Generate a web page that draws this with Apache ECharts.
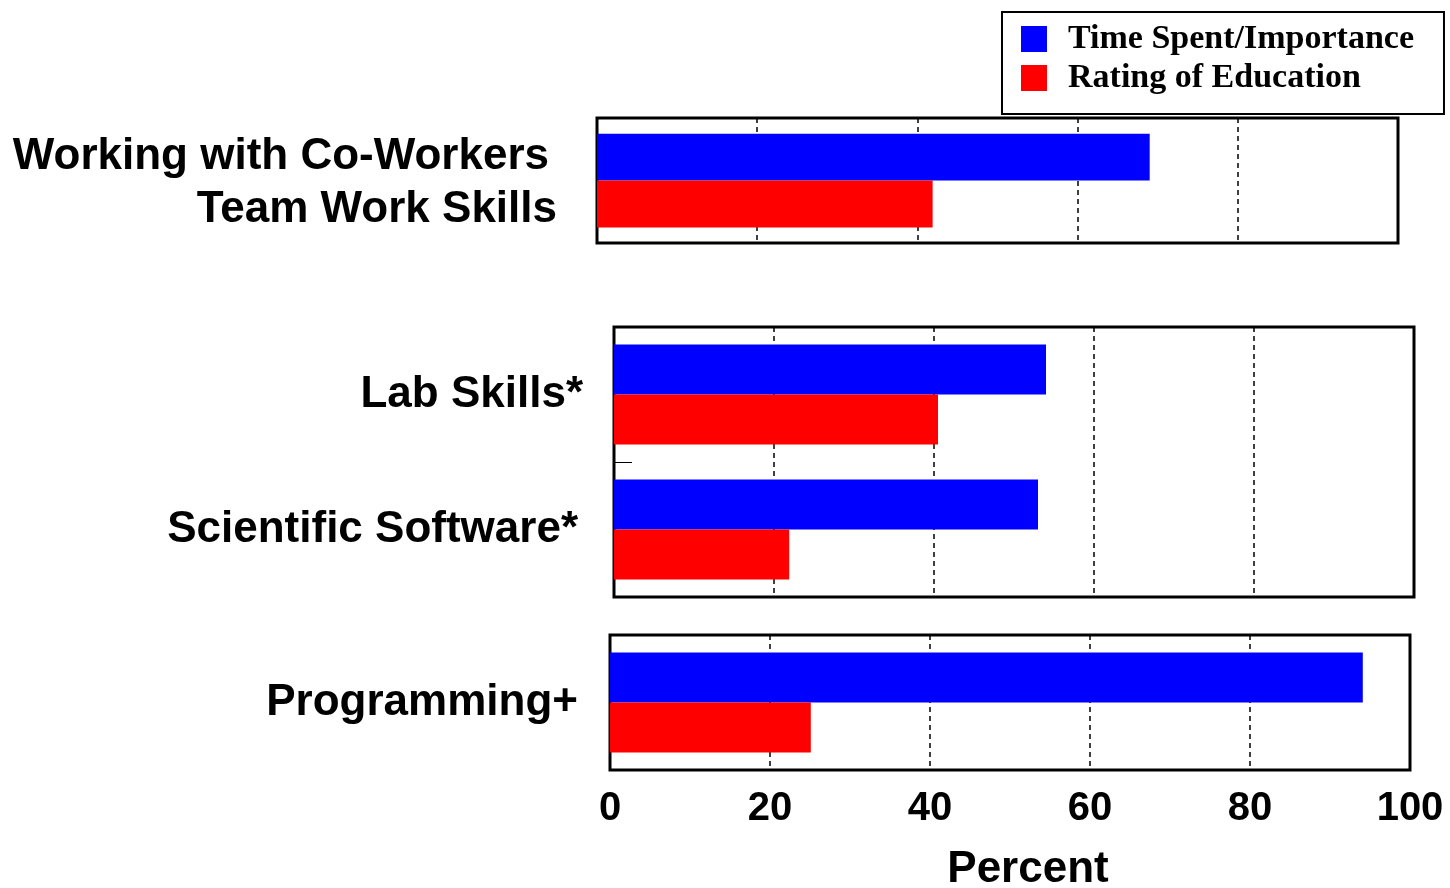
<!DOCTYPE html>
<html><head><meta charset="utf-8">
<script src="https://cdn.jsdelivr.net/npm/echarts@6/dist/echarts.min.js"></script>
<style>html,body{margin:0;padding:0;background:#fff}#c{width:1450px;height:888px}</style>
</head><body><div id="c"></div>
<script>
const seriesNames = ['Time Spent/Importance', 'Rating of Education'];
const cats1 = ['Working with Co-Workers\nTeam Work Skills'];
const cats2 = ['Lab Skills*', 'Scientific Software*'];
const cats3 = ['Programming+'];
const time1 = [69.0];
const rating1 = [41.9];
const time2 = [54.0, 53.0];
const rating2 = [40.5, 21.9];
const time3 = [94.1];
const rating3 = [25.1];
const xTicks = [0, 20, 40, 60, 80, 100];

const chart = echarts.init(document.getElementById('c'));
const FONT = 'Liberation Sans, Arial, sans-serif';
const grids = [
  {left: 597, top: 118, width: 801, height: 125},
  {left: 614, top: 327, width: 800, height: 270},
  {left: 610, top: 635, width: 800, height: 135}
];
function xAx(i, showLabels) {
  return {
    type: 'value', gridIndex: i, min: xTicks[0], max: xTicks[xTicks.length-1], interval: 20,
    axisLine: {show: false}, axisTick: {show: false},
    axisLabel: {show: showLabels, fontFamily: FONT, fontWeight: 'bold', fontSize: 40, color: '#000', margin: 19},
    splitLine: {show: true, lineStyle: {type: [5, 4], color: '#000', width: 1.5}},
    name: showLabels ? 'Percent' : '', nameLocation: 'middle', nameGap: 78,
    nameTextStyle: {fontFamily: FONT, fontWeight: 'bold', fontSize: 44, color: '#000', padding: [0, 0, 0, 36]}
  };
}
const txt = {fontFamily: FONT, fontWeight: 'bold', fontSize: 44, color: '#000'};
function yAx(i, cats, margin, tick, label) {
  return {
    type: 'category', gridIndex: i, data: cats, inverse: true,
    axisLine: {show: false},
    axisTick: {show: tick, inside: true, length: 18, lineStyle: {color: '#000', width: 1}},
    axisLabel: Object.assign({}, txt, {align: 'right', margin: margin}, label || {})
  };
}
function bars(name, color, idx, data, gap) {
  return {type: 'bar', name: name, xAxisIndex: idx, yAxisIndex: idx, data: data,
    itemStyle: {color: color}, barGap: '0%', barCategoryGap: gap, animation: false};
}
chart.setOption({
  backgroundColor: '#fff',
  animation: false,
  grid: grids.map(g => Object.assign({show: true, borderColor: '#000', borderWidth: 3,
    backgroundColor: 'transparent', containLabel: false, outerBoundsMode: 'none'}, g)),
  xAxis: [xAx(0, false), xAx(1, false), xAx(2, true)],
  yAxis: [
    yAx(0, cats1, 40, false, {
      formatter: v => v.split('\n').map((s, k) => '{l' + k + '|' + s + '}').join('\n'),
      rich: {
        l0: Object.assign({}, txt, {lineHeight: 53, padding: [0, 8, 0, 0]}),
        l1: Object.assign({}, txt, {lineHeight: 53})
      },
      padding: [6, 0, 0, 0]
    }),
    yAx(1, cats2, 31, true, {
      formatter: (v, k) => k === 1 ? '{s|' + v + '}' : '{n|' + v + '}',
      rich: {
        n: Object.assign({}, txt),
        s: Object.assign({}, txt, {padding: [0, 5, 0, 0]})
      }
    }),
    yAx(2, cats3, 32, false)
  ],
  legend: {
    orient: 'vertical', left: 1002, top: 12,
    data: seriesNames,
    itemWidth: 26, itemHeight: 26, itemGap: 5,
    padding: [10, 30, 19, 19],
    borderColor: '#000', borderWidth: 2, backgroundColor: '#fff',
    icon: 'rect',
    textStyle: {fontFamily: 'Liberation Serif, Times New Roman, serif', fontWeight: 'bold', fontSize: 34, color: '#000', padding: [0, 0, 0, 16]}
  },
  series: [
    bars(seriesNames[0], '#0000ff', 0, time1, '25%'),
    bars(seriesNames[1], '#ff0000', 0, rating1, '25%'),
    bars(seriesNames[0], '#0000ff', 1, time2, '26%'),
    bars(seriesNames[1], '#ff0000', 1, rating2, '26%'),
    bars(seriesNames[0], '#0000ff', 2, time3, '26%'),
    bars(seriesNames[1], '#ff0000', 2, rating3, '26%')
  ]
});
</script></body></html>
